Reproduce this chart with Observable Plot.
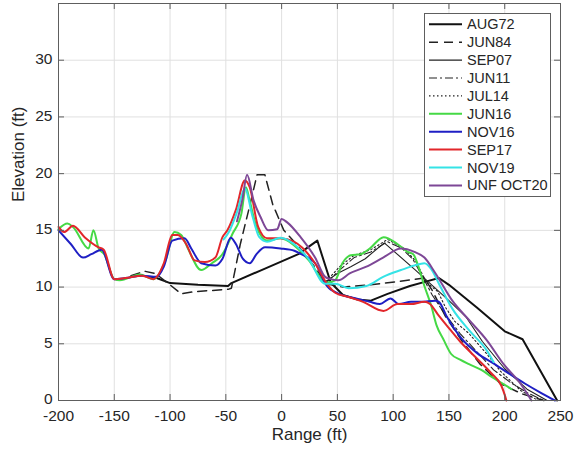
<!DOCTYPE html>
<html><head><meta charset="utf-8">
<script src="https://cdn.jsdelivr.net/npm/d3@7"></script>
<script src="https://cdn.jsdelivr.net/npm/@observablehq/plot@0.6"></script>
<style>
body{margin:0;background:#fff;}
#wrap{position:relative;width:582px;height:452px;font-family:"Liberation Sans",Arial,sans-serif;}
#legend{position:absolute;left:424px;top:13px;}
</style></head><body><div id="wrap"></div>
<script>
const xTicks = [-200,-150,-100,-50,0,50,100,150,200,250];
const xTickLabels = ["-200","-150","-100","-50","0","50","100","150","200","250"];
const yTicks = [0,5,10,15,20,25,30];
const yTickLabels = ["0","5","10","15","20","25","30"];
const seriesNames = ["AUG72","JUN84","SEP07","JUN11","JUL14","JUN16","NOV16","SEP17","NOV19","UNF OCT20"];

const aug72 = [[-120,10.9],[-112,10.8],[-100,10.35],[-75,10.2],[-48,10.1],[-45,10.35],[-18,11.5],[15,12.9],[32,14.1],[44,10.4],[55,9.3],[68,8.9],[80,8.8],[95,9.4],[115,10.1],[130,10.5],[141,10.8],[150,10.2],[175,8.2],[200,6.1],[216,5.4],[247,0]];
const jun84 = [[-135,11.0],[-123,11.4],[-113,11.2],[-102,10.35],[-90,9.4],[-78,9.6],[-48,9.8],[-45,9.9],[-37,13.8],[-29,17],[-22,19.9],[-15,19.9],[-8,17.3],[2,15],[15,13.6],[28,12],[40,10.3],[55,10],[80,10.2],[105,10.5],[128,10.8],[135,9.7],[147,7.4],[162,5.2],[178,3.2],[196,1.5],[215,0.6],[235,0]];
const sep07 = [[40,10.5],[50,11.2],[62,11.8],[75,12.5],[92,13.9],[120,11.5],[150,8.8],[165,7.4],[180,5.2],[200,2.8],[220,1.0],[238,0]];
const jun11 = [[40,10.4],[52,11.5],[65,12.6],[80,13.1],[95,14.0],[108,13.4],[118,12.4],[128,10.6],[135,9.3],[145,7.8],[160,5.9],[175,4.3],[190,2.7],[205,1.6],[220,0.7],[235,0]];
const jul14 = [[40,10.5],[52,11.8],[65,12.8],[80,13.3],[95,14.2],[110,13.4],[120,12.3],[130,10.4],[140,9.6],[147,8.2],[155,7.0],[168,5.9],[184,4.1],[196,2.6],[214,0.9],[230,0]];
const jun16 = [[-200,15.1],[-192,15.6],[-187,15.3],[-173,13.4],[-168.7,15.0],[-164,13.4],[-159,12.9],[-150,10.7],[-145,10.6],[-127,11.1],[-115,10.7],[-104,12.35],[-96,14.85],[-90,14.6],[-84,13.4],[-72,11.5],[-62.5,12.1],[-53,12.9],[-44,14.7],[-36,16.5],[-32,18.8],[-28.6,17.6],[-22.5,15.3],[-13,14.1],[-1,14.3],[11,13.7],[24,12.4],[40.6,10.4],[48,10.6],[54.5,12.1],[62,12.8],[71,12.9],[79,13.4],[91.4,14.4],[103.8,13.8],[113,13.1],[118,12.9],[122,12.0],[128,10.1],[134,8.4],[139,6.6],[145,5.4],[152,4.1],[160,3.6],[168,3.2],[179,2.7],[188,2.1],[203,1.2],[206,1.0]];
const nov16 = [[-200,15.0],[-189,13.8],[-178,12.6],[-170.6,12.9],[-161.4,13.3],[-150,10.7],[-140,10.8],[-125,11.0],[-112,10.9],[-105.6,11.8],[-98,14.1],[-87,14.3],[-81,13.4],[-72,12.1],[-59.4,11.9],[-53,12.5],[-45.6,14.35],[-41,13.8],[-34.8,12.5],[-28.6,12.1],[-22.5,12.9],[-14.8,13.5],[-1,13.4],[11.4,13.2],[17.5,12.9],[30,12.1],[40.6,10.1],[51.4,9.4],[66.8,9.0],[79,8.7],[88,8.5],[97.6,9.0],[105,8.5],[116,8.7],[125,8.7],[137.6,8.8],[141,8.7],[148,7.4],[161,5.5],[175,4.2],[191,3.2],[205,2.3],[218,1.5],[232,0.7],[245,0]];
const sep17 = [[-200,15.3],[-195,14.85],[-187,15.4],[-176.6,14.4],[-164,13.5],[-159.5,13.3],[-150,10.7],[-140,10.8],[-125,11.0],[-115,10.7],[-105.6,12.1],[-98,14.6],[-93,14.6],[-85.6,13.8],[-78,12.35],[-68.7,12.2],[-59.4,12.6],[-53,14.4],[-48.6,15.0],[-41,16.8],[-33,19.4],[-28.6,18.8],[-21,15.3],[-13,14.3],[-1,14.3],[11,14.0],[30,12.1],[40.6,10.3],[48,9.5],[60.6,9.1],[73,8.7],[91.4,7.9],[103.8,8.5],[116,8.5],[128,8.7],[133,8.5],[140,7.6],[149,6.5],[160,5.2],[173,3.9],[188,2.4],[197,1.3],[200,0.5],[201.5,0]];
const nov19 = [[-52,14.2],[-47,14.9],[-40,16.6],[-33,18.7],[-26,16.2],[-20,14.4],[-13,14.0],[-1,14.35],[11,13.8],[24,12.5],[39,10.3],[48,10.3],[60,9.9],[76,10.1],[91,10.9],[107,11.5],[119,11.9],[128,12.1],[134,11.6],[141,10.3],[153,8.1],[168,6.2],[184,4.4],[190,3.4]];
const oct20 = [[-40,15.8],[-35,17.8],[-31,19.9],[-25,17.6],[-19,16.2],[-12,15.0],[-4,15.1],[0,16.0],[5,15.7],[17,14.4],[30,12.6],[39,10.9],[44,10.7],[51,10.6],[61,11.2],[76,11.8],[91,12.6],[107,13.4],[119,13.1],[128,12.6],[138,11.2],[153,8.8],[168,7.1],[184,5.3],[199,3.2],[214,1.5],[224,0]];

const seriesData = [aug72, jun84, sep07, jun11, jul14, jun16, nov16, sep17, nov19, oct20];
const seriesStyle = [
  {stroke:"#111", width:2, dash:null, curve:"linear"},
  {stroke:"#222", width:1.5, dash:"9,6", curve:"linear"},
  {stroke:"#222", width:1.1, dash:null, curve:"linear"},
  {stroke:"#222", width:1.1, dash:"8,3,2,3", curve:"linear"},
  {stroke:"#222", width:1.1, dash:"1.5,2.5", curve:"linear"},
  {stroke:"#45d945", width:2, dash:null, curve:"monotone-x"},
  {stroke:"#1f1fc4", width:2, dash:null, curve:"monotone-x"},
  {stroke:"#e2262b", width:2, dash:null, curve:"monotone-x"},
  {stroke:"#35e3e6", width:2, dash:null, curve:"monotone-x"},
  {stroke:"#7d4796", width:2, dash:null, curve:"monotone-x"}
];

const axisColor = "#5e5e5e", textColor = "#262626", gridColor = "#e0e0e0";

const lineMarks = seriesData.map((data, i) => Plot.line(data, {
  x: d => d[0], y: d => d[1],
  stroke: seriesStyle[i].stroke, strokeWidth: seriesStyle[i].width,
  strokeDasharray: seriesStyle[i].dash, curve: seriesStyle[i].curve
}));

const chart = Plot.plot({
  width: 582, height: 452,
  marginLeft: 58, marginRight: 22, marginTop: 3, marginBottom: 52,
  style: {fontFamily: "'Liberation Sans', Arial, sans-serif", background: "#fff", overflow: "visible"},
  x: {domain: [-200, 250], axis: null},
  y: {domain: [0, 35], axis: null},
  marks: [
    Plot.ruleX(xTicks, {x: d => d, stroke: gridColor, strokeWidth: 1}),
    Plot.ruleY(yTicks, {y: d => d, stroke: gridColor, strokeWidth: 1}),
    ...lineMarks,
    Plot.ruleX(xTicks, {x: d => d, y1: 0, y2: 0, insetBottom: 6, stroke: axisColor}),
    Plot.ruleX(xTicks, {x: d => d, y1: 35, y2: 35, insetTop: 6, stroke: axisColor}),
    Plot.ruleY(yTicks, {y: d => d, x1: -200, x2: -200, insetLeft: 6, stroke: axisColor}),
    Plot.ruleY(yTicks, {y: d => d, x1: 250, x2: 250, insetRight: 6, stroke: axisColor}),
    Plot.frame({stroke: axisColor, strokeWidth: 1}),
    Plot.text(xTicks, {x: d => d, y: 0, text: (d, i) => xTickLabels[i], dy: 15.5, fontSize: 15.5, fill: textColor}),
    Plot.text(yTicks, {x: -200, y: d => d, text: (d, i) => yTickLabels[i], dx: -6, dy: -1, textAnchor: "end", fontSize: 15.5, fill: textColor}),
    Plot.text(["Range (ft)"], {frameAnchor: "bottom", dy: 39, fontSize: 17, fill: textColor}),
    Plot.text(["Elevation (ft)"], {frameAnchor: "left", dx: -40, rotate: -90, fontSize: 17, fill: textColor})
  ]
});
const wrap = document.getElementById("wrap");
wrap.appendChild(chart);

// Legend
const legW = 127, legH = 184, rowY0 = 11.3, rowStep = 17.9;
const leg = d3.select(wrap).append("div").attr("id", "legend")
  .append("svg").attr("width", legW).attr("height", legH)
  .style("font-family", "'Liberation Sans', Arial, sans-serif");
leg.append("rect").attr("x", 0.5).attr("y", 0.5).attr("width", legW - 1).attr("height", legH - 1)
  .attr("fill", "#fff").attr("stroke", axisColor).attr("stroke-width", 1);
seriesNames.forEach((name, i) => {
  const y = rowY0 + i * rowStep;
  const s = seriesStyle[i];
  leg.append("line").attr("x1", 5).attr("x2", 38).attr("y1", y).attr("y2", y)
    .attr("stroke", s.stroke).attr("stroke-width", s.width)
    .attr("stroke-dasharray", s.dash);
  leg.append("text").attr("x", 43).attr("y", y).attr("dy", "0.35em")
    .attr("font-size", 14.5).attr("fill", textColor).text(name);
});
</script></body></html>
